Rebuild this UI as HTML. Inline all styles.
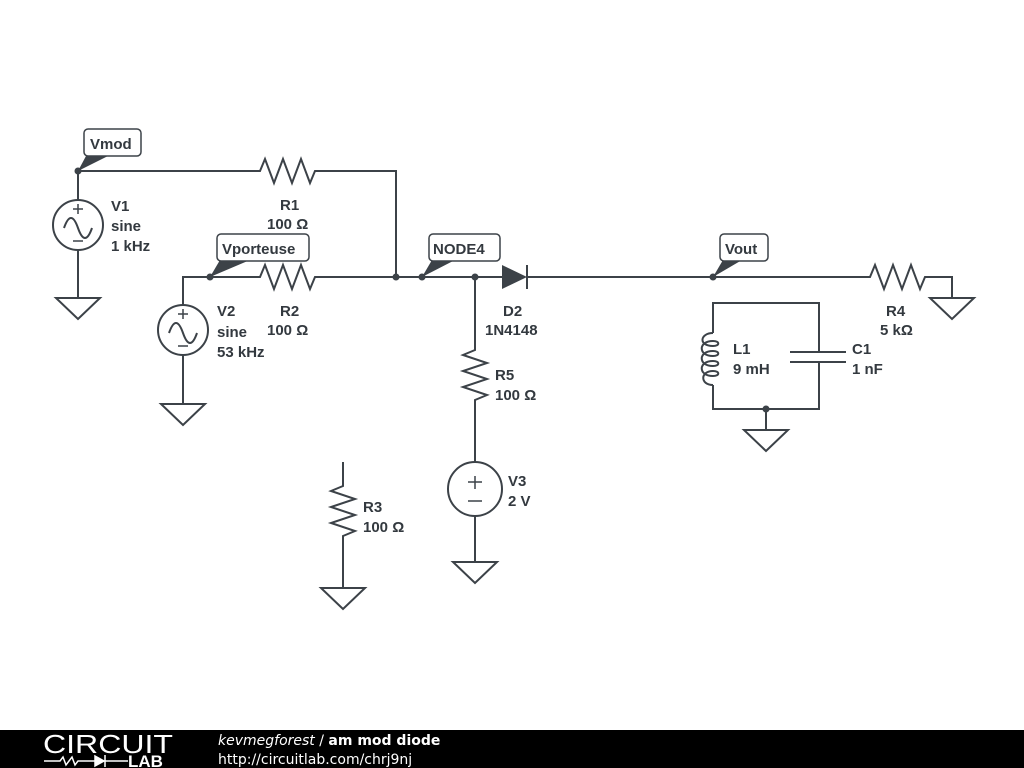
<!DOCTYPE html>
<html><head><meta charset="utf-8"><style>
html,body{margin:0;padding:0;background:#fff;width:1024px;height:768px;overflow:hidden}
svg{display:block}
.t{font-family:"Liberation Sans",Arial,sans-serif;font-weight:700;font-size:15px;fill:#33393f}
</style></head><body>
<svg width="1024" height="768" viewBox="0 0 1024 768">
<g fill="none" stroke="#3c4248" stroke-width="2" stroke-linejoin="miter">
<path d="M78 171 H260 l5 -12 l9 24 l9 -24 l9 24 l9 -24 l9 24 l5 -12 H396 V277"/>
<path d="M78 171 V200 M78 250 V298"/>
<circle cx="78" cy="225" r="25"/>
<path d="M64 228 q7 -20 14 0 q7 20 14 0"/>
<path d="M78 204 v10 M73 209 h10 M73 241 h10" stroke-width="1.5"/>
<path d="M56 298 H100 L78 319 Z"/>
<path d="M183 305 V277 H260 l5 -12 l9 24 l9 -24 l9 24 l9 -24 l9 24 l5 -12 H502"/>
<circle cx="183" cy="330" r="25"/>
<path d="M169 333 q7 -20 14 0 q7 20 14 0"/>
<path d="M183 309 v10 M178 314 h10 M178 346 h10" stroke-width="1.5"/>
<path d="M183 355 V404 M161 404 H205 L183 425 Z"/>
<path d="M527 265 V289"/>
<path d="M527 277 H870 l5 -12 l9 24 l9 -24 l9 24 l9 -24 l9 24 l5 -12 H952 V298 M930 298 H974 L952 319 Z"/>
<path d="M713 333 V303 H819 V352 M790 352 H846 M790 362 H846 M819 362 V409 H713 V385"/>
<path d="M713 333 C700 333 698 346 713 346 C720 346 720 341 713 341 C698 341 698 356 713 356 C720 356 720 351 713 351 C698 351 698 366 713 366 C720 366 720 361 713 361 C698 361 698 376 713 376 C720 376 720 371 713 371 C700 371 700 385 713 385"/>
<path d="M766 409 V430 M744 430 H788 L766 451 Z"/>
<path d="M475 277 V350 l-12 5 l24 8 l-24 8 l24 8 l-24 8 l24 8 l-12 5 V462"/>
<circle cx="475" cy="489" r="27"/>
<path d="M475 476 v13 M468 482 h14 M468 501 h14" stroke-width="1.5"/>
<path d="M475 516 V562 M453 562 H497 L475 583 Z"/>
<path d="M343 462 V486 l-12 5 l24 8 l-24 8 l24 8 l-24 8 l24 8 l-12 5 V588 M321 588 H365 L343 609 Z"/>
</g>
<g fill="#3c4248">
<circle cx="78" cy="171" r="3.5"/><circle cx="210" cy="277" r="3.5"/><circle cx="396" cy="277" r="3.5"/>
<circle cx="422" cy="277" r="3.5"/><circle cx="475" cy="277" r="3.5"/><circle cx="713" cy="277" r="3.5"/>
<circle cx="766" cy="409" r="3.5"/>
<path d="M502 265 L527 277 L502 289 Z"/>
<path d="M78 171 L86 156 L108 156 Z"/>
<path d="M210 277 L220 260 L250 260 Z"/>
<path d="M422 277 L432 260 L455 260 Z"/>
<path d="M713 277 L723 260 L742 260 Z"/>
</g>
<g fill="#fff" stroke="#3c4248" stroke-width="1.5">
<rect x="84" y="129" width="57" height="27" rx="4"/>
<rect x="217" y="234" width="92" height="27" rx="4"/>
<rect x="429" y="234" width="71" height="27" rx="4"/>
<rect x="720" y="234" width="48" height="27" rx="4"/>
</g>
<g class="t">
<text class="t" x="90" y="149" font-size="16">Vmod</text>
<text class="t" x="222" y="254" font-size="16">Vporteuse</text>
<text class="t" x="433" y="254" font-size="16">NODE4</text>
<text class="t" x="725" y="254" font-size="16">Vout</text>
<text class="t" x="111" y="211">V1</text><text class="t" x="111" y="231">sine</text><text class="t" x="111" y="251">1 kHz</text>
<text class="t" x="280" y="210">R1</text><text class="t" x="267" y="229">100 Ω</text>
<text class="t" x="217" y="316">V2</text><text class="t" x="217" y="337">sine</text><text class="t" x="217" y="357">53 kHz</text>
<text class="t" x="280" y="316">R2</text><text class="t" x="267" y="335">100 Ω</text>
<text class="t" x="503" y="316">D2</text><text class="t" x="485" y="335">1N4148</text>
<text class="t" x="495" y="380">R5</text><text class="t" x="495" y="400">100 Ω</text>
<text class="t" x="508" y="486">V3</text><text class="t" x="508" y="506">2 V</text>
<text class="t" x="363" y="512">R3</text><text class="t" x="363" y="532">100 Ω</text>
<text class="t" x="733" y="354">L1</text><text class="t" x="733" y="374">9 mH</text>
<text class="t" x="852" y="354">C1</text><text class="t" x="852" y="374">1 nF</text>
<text class="t" x="886" y="316">R4</text><text class="t" x="880" y="335">5 kΩ</text>
</g>
<rect x="0" y="730" width="1024" height="38" fill="#000"/>
<text x="43" y="753" style="font-family:'Liberation Sans',sans-serif;font-size:26px;fill:#fff;letter-spacing:0px" textLength="130" lengthAdjust="spacingAndGlyphs">CIRCUIT</text>
<path d="M44 761 H60 l3 -4 l3 8 l3 -4 l3 -4 l3 8 l3 -4 H95" stroke="#fff" stroke-width="1.5" fill="none"/>
<path d="M95 756 L104 761 L95 766 Z M105 755 V767" fill="#fff" stroke="#fff" stroke-width="1.5"/>
<path d="M105 761 H128" stroke="#fff" stroke-width="1.5"/>
<text x="128" y="767" style="font-family:'Liberation Sans',sans-serif;font-weight:700;font-size:17px;fill:#fff">LAB</text>
<text x="218" y="745" style="fill:#fff;font-family:'DejaVu Sans',sans-serif;font-size:14px"><tspan font-style="italic">kevmegforest</tspan> / <tspan font-weight="bold">am mod diode</tspan></text>
<text x="218" y="764" style="fill:#fff;font-family:'DejaVu Sans',sans-serif;font-size:14px">http://circuitlab.com/chrj9nj</text>
</svg>
</body></html>
